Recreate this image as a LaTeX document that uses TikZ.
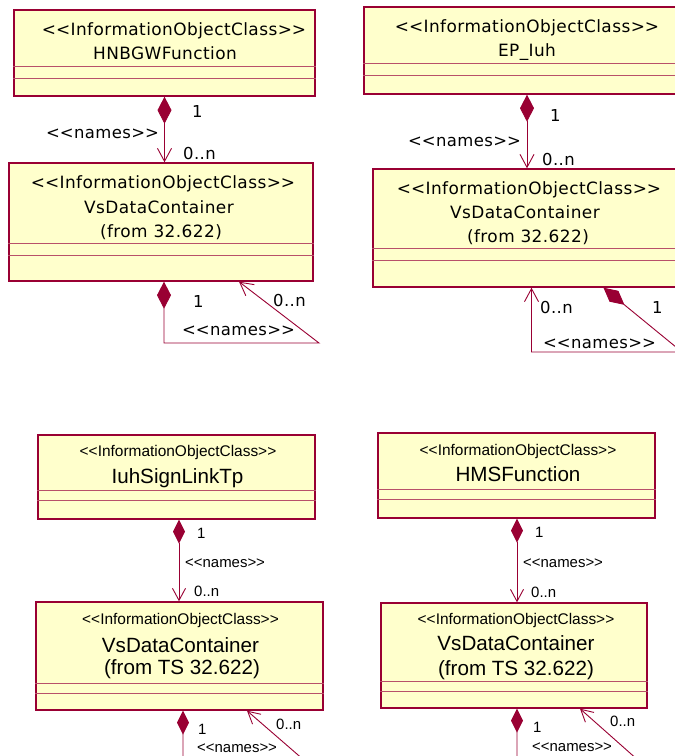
\documentclass[tikz,border=0pt]{standalone}
\usepackage{fontspec}
\setmainfont{DejaVu Sans}[LetterSpace=2.5]
\newfontfamily\arialf{Liberation Sans}
\usetikzlibrary{arrows.meta}
\definecolor{umlred}{HTML}{990033}
\definecolor{divred}{HTML}{B8506A}
\definecolor{classfill}{HTML}{FFFFCC}
\newcommand\umlL{<\kern0pt<}
\newcommand\umlR{>\kern0pt>}
\newcommand\stereo{\umlL InformationObjectClass\umlR}
\newcommand\nm{\umlL names\umlR}
\begin{document}
\begin{tikzpicture}[x=1bp,y=-1bp,
  classbox/.style={draw=umlred, fill=classfill, line width=1.4bp, inner sep=0pt, rectangle},
  divider/.style={draw=divred, line width=1.3bp},
  assoc/.style={draw=umlred, line width=0.9bp},
  comptop/.style={assoc, {Diamond[length=27bp,width=14bp]}-{Straight Barb[length=13bp,width=14bp]}},
  compbot/.style={assoc, {Diamond[length=24bp,width=12bp]}-{Straight Barb[length=12bp,width=13bp]}},
  txtA/.style={font=\fontsize{17}{20}\selectfont, inner sep=0pt, anchor=base},
  lblA/.style={font=\fontsize{16.5}{20}\selectfont, inner sep=0pt, anchor=base west},
  sterB/.style={font=\arialf\fontsize{15.5}{18}\selectfont, inner sep=0pt, anchor=base},
  nameB/.style={font=\arialf\fontsize{20.7}{24}\selectfont, inner sep=0pt, anchor=base},
  lblB/.style={font=\arialf\fontsize{15}{18}\selectfont, inner sep=0pt, anchor=base west}]
\useasboundingbox (0,0) rectangle (675,756);
\clip (0,0) rectangle (675,756);
\fill[white] (0,0) rectangle (675,756);

% boxes
\node[classbox, minimum width=301bp, minimum height=86bp]  (b1) at (164.5,53) {};
\node[classbox, minimum width=304bp, minimum height=118bp] (b2) at (161,222) {};
\node[classbox, minimum width=326bp, minimum height=87bp]  (b3) at (527,50.5) {};
\node[classbox, minimum width=317bp, minimum height=118bp] (b4) at (531.5,228) {};
\node[classbox, minimum width=277bp, minimum height=84bp]  (b5) at (176.5,477) {};
\node[classbox, minimum width=287bp, minimum height=108bp] (b6) at (179.5,656) {};
\node[classbox, minimum width=277bp, minimum height=85bp]  (b7) at (516.5,475.5) {};
\node[classbox, minimum width=266bp, minimum height=105bp] (b8) at (514,655.5) {};

% dividers
\foreach \b/\da/\db in {b1/57/69, b2/81/93, b3/57/69, b4/80/92, b5/56/66, b6/82/92, b7/57/67, b8/79/89}{
  \draw[divider] ([yshift=-\da bp]\b.north west) -- ([yshift=-\da bp]\b.north east);
  \draw[divider] ([yshift=-\db bp]\b.north west) -- ([yshift=-\db bp]\b.north east);
}

% texts top
\node[txtA] (t1a) at (174,36) {\stereo};
\node[txtA] (t1b) at (165,60) {HNBGWFunction};
\node[txtA] (t2a) at (163,188) {\stereo};
\node[txtA] (t2b) at (159,213) {VsDataContainer};
\node[txtA] (t2c) at (161,237) {(from 32.622)};
\node[txtA] (t3a) at (527,33) {\stereo};
\node[txtA] (t3b) at (527,57) {EP\_Iuh};
\node[txtA] (t4a) at (529,194) {\stereo};
\node[txtA] (t4b) at (525,218) {VsDataContainer};
\node[txtA] (t4c) at (528,242) {(from 32.622)};
% texts bottom
\node[sterB] (t5a) at (178,456) {\stereo};
\node[nameB] (t5b) at (177.5,483) {IuhSignLinkTp};
\node[sterB] (t6a) at (180.5,624) {\stereo};
\node[nameB] (t6b) at (180.5,652) {VsDataContainer};
\node[nameB] (t6c) at (182,674) {(from TS 32.622)};
\node[sterB] (t7a) at (518,455) {\stereo};
\node[nameB] (t7b) at (518,481) {HMSFunction};
\node[sterB] (t8a) at (516,624) {\stereo};
\node[nameB] (t8b) at (516,650) {VsDataContainer};
\node[nameB] (t8c) at (516,675) {(from TS 32.622)};

% loop corners (off the visible edge where needed)
\coordinate (c1) at (319,343);
\coordinate (c2) at (682,352);
\coordinate (c3) at (350,800);
\coordinate (c4) at (683,800);

% connectors
\draw[comptop] (b1.south) -- (b1.south |- b2.north);
\draw[comptop] ([xshift=3bp]b2.south) |- (c1) -- ([xshift=78bp]b2.south);
\draw[comptop] (b3.south) -- (b3.south |- b4.north);
\draw[comptop] ([xshift=72bp]b4.south) -- (c2) -| (b4.south);
\draw[compbot] ([xshift=2.5bp]b5.south) -- ([xshift=2.5bp]b5.south |- b6.north);
\draw[compbot] ([xshift=3.5bp]b6.south) |- (c3) -- ([xshift=67.5bp]b6.south);
\draw[compbot] ([xshift=0.5bp]b7.south) -- ([xshift=0.5bp]b7.south |- b8.north);
\draw[compbot] ([xshift=3bp]b8.south) |- (c4) -- ([xshift=66bp]b8.south);

% labels top-left
\node[lblA] (l1) at (192,117) {1};
\node[lblA] (l2) at (46,138) {\nm};
\node[lblA] (l3) at (183,159) {0..n};
\node[lblA] (l4) at (193,307) {1};
\node[lblA] (l5) at (273,306) {0..n};
\node[lblA] (l6) at (182,335) {\nm};
% labels top-right
\node[lblA] (l7) at (550,121) {1};
\node[lblA] (l8) at (408,146) {\nm};
\node[lblA] (l9) at (542,165) {0..n};
\node[lblA] (l10) at (540,313) {0..n};
\node[lblA] (l11) at (652,313) {1};
\node[lblA] (l12) at (543,348) {\nm};
% labels bottom-left
\node[lblB] (l13) at (197,538) {1};
\node[lblB] (l14) at (185,567) {\nm};
\node[lblB] (l15) at (194,596) {0..n};
\node[lblB] (l16) at (198,734) {1};
\node[lblB] (l17) at (276,729) {0..n};
\node[lblB] (l18) at (197,752) {\nm};
% labels bottom-right
\node[lblB] (l19) at (535,537) {1};
\node[lblB] (l20) at (523,567) {\nm};
\node[lblB] (l21) at (531,597) {0..n};
\node[lblB] (l22) at (533,732) {1};
\node[lblB] (l23) at (610,726) {0..n};
\node[lblB] (l24) at (532,751) {\nm};
\end{tikzpicture}
\end{document}
